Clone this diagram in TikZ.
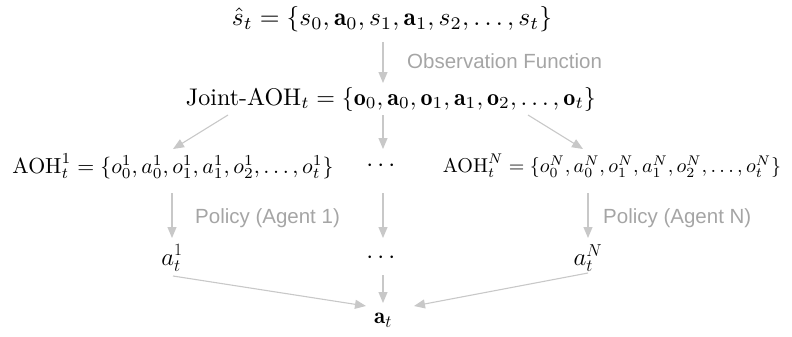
\documentclass[tikz,border=0pt]{standalone}
\usepackage{amsmath}
\usepackage{graphicx}
\usepackage{fontspec}
\setsansfont{Liberation Sans}
\usetikzlibrary{arrows.meta}
\definecolor{arrgray}{RGB}{200,200,200}
\definecolor{labgray}{RGB}{165,165,165}
\begin{document}
\begin{tikzpicture}[x=1pt,y=-1pt,
  mathnode/.style={inner sep=0pt},
  small/.style={inner sep=0pt,font=\fontsize{23}{27}\selectfont},
  lab/.style={inner sep=0pt,anchor=west,text=labgray,font=\sffamily\fontsize{20.5}{24}\selectfont},
  arr/.style={draw=arrgray,line width=1.1pt,-{Triangle[length=11pt,width=9pt]}}]
\useasboundingbox (0,0) rectangle (792,337);
\node[mathnode] (s) at (392,19) {\resizebox{320pt}{!}{$\hat{s}_t = \{s_0, \mathbf{a}_0, s_1, \mathbf{a}_1, s_2, \ldots, s_t\}$}};
\node[mathnode] (j) at (391,99) {\resizebox{410pt}{!}{$\text{Joint-AOH}_t = \{\mathbf{o}_0, \mathbf{a}_0, \mathbf{o}_1, \mathbf{a}_1, \mathbf{o}_2, \ldots, \mathbf{o}_t\}$}};
\node[mathnode] (h1) at (173,166) {\resizebox{321pt}{!}{$\text{AOH}^1_t = \{o^1_0, a^1_0, o^1_1, a^1_1, o^1_2, \ldots, o^1_t\}$}};
\node[small] (hm) at (383,166) {$\cdots$};
\node[mathnode] (hN) at (612,166) {\resizebox{338pt}{!}{$\text{AOH}^N_t = \{o^N_0, a^N_0, o^N_1, a^N_1, o^N_2, \ldots, o^N_t\}$}};
\node[small] (a1) at (172,258) {$a^1_t$};
\node[small] (am) at (383,258) {$\cdots$};
\node[small] (aN) at (588,258) {$a^N_t$};
\node[small] (a) at (383,320) {$\mathbf{a}_t$};
\coordinate (s1) at (383,42);
\coordinate (s2) at (383,83);
\draw[arr] (s1) -- (s2);
\node[lab] (lo) at (407,61) {Observation Function};
\coordinate (j1) at (228,115); \coordinate (j1e) at (173,149);
\coordinate (jm) at (383,115); \coordinate (jme) at (383,149);
\coordinate (jN) at (528,115); \coordinate (jNe) at (583,149);
\draw[arr] (j1) -- (j1e);
\draw[arr] (jm) -- (jme);
\draw[arr] (jN) -- (jNe);
\coordinate (p1) at (172,193); \coordinate (p1e) at (172,238);
\coordinate (pm) at (383,193); \coordinate (pme) at (383,238);
\coordinate (pN) at (588,193); \coordinate (pNe) at (588,238);
\draw[arr] (p1) -- (p1e);
\draw[arr] (pm) -- (pme);
\draw[arr] (pN) -- (pNe);
\node[lab] (l1) at (195,218) {Policy (Agent 1)};
\node[lab] (lN) at (603,218) {Policy (Agent N)};
\coordinate (b1) at (173,276); \coordinate (b1e) at (366,306);
\coordinate (bm) at (383,275); \coordinate (bme) at (383,303);
\coordinate (bN) at (588,273); \coordinate (bNe) at (414,306);
\draw[arr] (b1) -- (b1e);
\draw[arr] (bm) -- (bme);
\draw[arr] (bN) -- (bNe);
\end{tikzpicture}
\end{document}
